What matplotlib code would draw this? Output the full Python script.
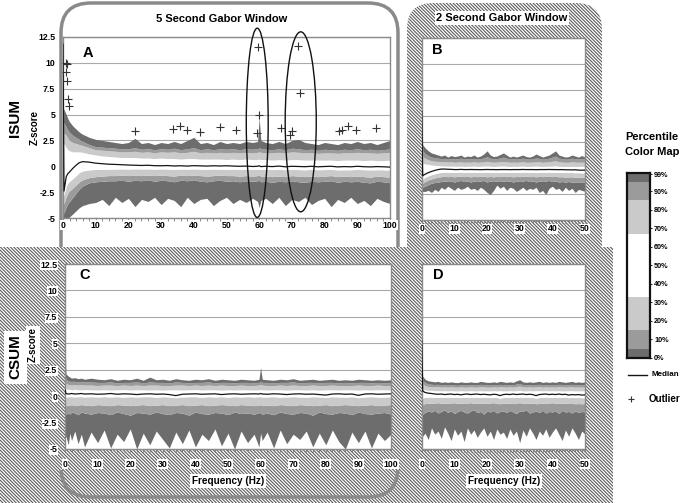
import matplotlib
matplotlib.use('Agg')
import matplotlib.pyplot as plt
from matplotlib.patches import FancyBboxPatch, Rectangle, Ellipse
import numpy as np

plt.rcParams['font.family'] = ['Liberation Sans', 'DejaVu Sans']
plt.rcParams['hatch.linewidth'] = 0.8

# frequency grids (Hz)
freq_5s = [0, 0.3, 1, 1.5, 2, 3, 4, 5, 6, 8, 10] + list(range(12, 59, 2)) + [59.5, 60, 60.5] + list(range(62, 101, 2))
freq_2s = [0, 0.3] + list(range(1, 51))

# ---- A: ISUM, 5 s window ----
isum5_p99 = [5.6, 5.5, 5.0, 4.6, 4.3, 3.9, 3.6, 3.3, 3.1, 2.8, 2.6,
             2.5, 2.4, 2.3, 2.2, 2.3, 2.7, 2.2, 2.3, 2.1, 2.3, 2.2, 2.4, 2.2, 2.5, 2.8, 2.2, 2.3, 2.1, 2.4, 2.2, 2.3, 2.2, 2.4, 2.3,
             2.4, 4.7, 2.5,
             2.3, 2.2, 2.4, 2.2, 2.5, 2.6, 2.3, 2.2, 2.1, 2.3, 2.2, 2.1, 2.3, 2.2, 2.4, 2.2, 2.3, 2.1, 2.3, 2.5]
isum5_p95 = [4.2, 4.2, 3.8, 3.5, 3.3, 3.0, 2.8, 2.6, 2.4, 2.1, 1.9,
             1.85, 1.8, 1.75, 1.7, 1.7, 1.8, 1.65, 1.7, 1.6, 1.7, 1.65, 1.75, 1.6, 1.7, 1.8, 1.6, 1.7, 1.6, 1.7, 1.65, 1.7, 1.6, 1.7, 1.65,
             1.7, 1.8, 1.7,
             1.65, 1.6, 1.7, 1.6, 1.75, 1.7, 1.6, 1.65, 1.55, 1.65, 1.6, 1.55, 1.65, 1.6, 1.7, 1.6, 1.65, 1.55, 1.6, 1.7]
isum5_p85 = [3.2, 3.2, 3.0, 2.7, 2.5, 2.3, 2.2, 2.1, 2.0, 1.8, 1.6,
             1.55, 1.5, 1.45, 1.4, 1.4, 1.45, 1.35, 1.4, 1.3, 1.4, 1.35, 1.4, 1.3, 1.35, 1.45, 1.3, 1.35, 1.3, 1.35, 1.3, 1.35, 1.3, 1.35, 1.3,
             1.35, 1.4, 1.35,
             1.3, 1.3, 1.35, 1.3, 1.4, 1.35, 1.3, 1.3, 1.25, 1.3, 1.3, 1.25, 1.3, 1.3, 1.35, 1.3, 1.3, 1.25, 1.3, 1.35]
isum5_p67 = [2.2, 2.2, 1.8, 1.6, 1.5, 1.4, 1.4, 1.4, 1.35, 1.2, 1.1,
             1.0, 0.95, 0.9, 0.85, 0.85, 0.85, 0.8, 0.8, 0.75, 0.8, 0.75, 0.75, 0.7, 0.75, 0.75, 0.7, 0.7, 0.7, 0.7, 0.65, 0.7, 0.65, 0.7, 0.65,
             0.65, 0.7, 0.65,
             0.65, 0.6, 0.65, 0.6, 0.65, 0.65, 0.6, 0.6, 0.6, 0.6, 0.6, 0.55, 0.6, 0.6, 0.6, 0.55, 0.6, 0.55, 0.55, 0.6]
isum5_med = [11.8, -2.4, -1.0, -0.7, -0.55, -0.2, 0.1, 0.35, 0.45, 0.4, 0.3,
             0.25, 0.2, 0.18, 0.15, 0.12, 0.1, 0.08, 0.1, 0.06, 0.05, 0.07, 0.03, 0.05, 0.02, 0.06, 0.04, 0.02, 0.05, 0.03, 0.05, 0.02, 0.0, 0.02, -0.02,
             0.0, 0.05, -0.03,
             0.0, -0.03, 0.02, -0.05, 0.0, -0.02, -0.04, 0.0, -0.05, -0.02, 0.0, -0.06, -0.03, -0.05, 0.0, -0.04, -0.06, -0.03, -0.05, -0.08]
isum5_p33 = [-2.8, -2.8, -1.9, -1.6, -1.45, -1.2, -0.9, -0.6, -0.45, -0.35, -0.3,
             -0.3, -0.28, -0.27, -0.25, -0.27, -0.25, -0.26, -0.25, -0.28, -0.25, -0.27, -0.3, -0.27, -0.28, -0.25, -0.28, -0.3, -0.27, -0.28, -0.3, -0.27, -0.3, -0.28, -0.3,
             -0.3, -0.28, -0.3,
             -0.3, -0.32, -0.3, -0.33, -0.3, -0.32, -0.34, -0.3, -0.33, -0.32, -0.3, -0.35, -0.33, -0.34, -0.3, -0.33, -0.35, -0.33, -0.34, -0.36]
isum5_p15 = [-3.6, -3.6, -2.9, -2.6, -2.4, -2.1, -1.8, -1.5, -1.3, -1.1, -1.0,
             -0.95, -0.9, -0.9, -0.85, -0.9, -0.85, -0.9, -0.85, -0.9, -0.85, -0.9, -0.95, -0.85, -0.9, -0.85, -0.9, -0.95, -0.9, -0.85, -0.9, -0.9, -0.95, -0.9, -0.95,
             -0.9, -0.85, -0.95,
             -0.95, -1.0, -0.95, -1.0, -0.9, -0.95, -1.0, -0.95, -1.0, -0.95, -0.9, -1.0, -0.95, -1.0, -0.95, -1.0, -1.05, -0.95, -1.0, -1.05]
isum5_p5 = [-4.5, -4.5, -3.9, -3.6, -3.4, -3.0, -2.6, -2.2, -1.9, -1.6, -1.5,
            -1.45, -1.4, -1.4, -1.35, -1.45, -1.35, -1.4, -1.3, -1.45, -1.35, -1.4, -1.5, -1.35, -1.4, -1.3, -1.45, -1.5, -1.4, -1.35, -1.45, -1.4, -1.5, -1.4, -1.45,
            -1.4, -1.35, -1.5,
            -1.45, -1.55, -1.45, -1.5, -1.4, -1.5, -1.55, -1.45, -1.5, -1.45, -1.4, -1.55, -1.45, -1.5, -1.45, -1.55, -1.6, -1.45, -1.5, -1.6]
isum5_p0 = [-5.0, -5.0, -5.0, -5.0, -4.9, -4.6, -4.3, -4.0, -3.8, -3.6, -3.5,
            -3.2, -3.8, -3.0, -3.5, -3.1, -3.9, -3.2, -3.4, -3.0, -3.7, -3.1, -3.3, -3.9, -3.0, -3.6, -3.2, -3.1, -3.8, -3.3, -3.0, -3.6, -3.2, -3.5, -3.1,
            -3.4, -4.0, -3.3,
            -3.1, -3.6, -3.0, -3.8, -3.2, -3.4, -3.0, -3.7, -3.3, -3.1, -3.9, -3.2, -3.5, -3.0, -3.6, -3.3, -3.8, -3.1, -3.4, -3.6]

# outliers in A
outlier_hz = [0.9, 1.2, 0.8, 1.1, 1.4, 1.9, 22.0, 33.7, 35.8, 38.0, 41.9, 48.0, 53.0,
              59.7, 60.0, 59.2, 72.0, 72.6, 66.7, 69.3, 70.1, 84.5, 85.3, 87.3, 89.6, 95.7]
outlier_z = [10.0, 9.9, 9.1, 8.25, 6.5, 5.85, 3.45, 3.57, 3.92, 3.5, 3.35, 3.78, 3.53,
             11.5, 4.96, 3.19, 11.6, 7.12, 3.7, 3.03, 3.44, 3.4, 3.5, 3.85, 3.5, 3.7]

# circled line-noise regions (centre Hz, centre z, width Hz, height z)
circled = [(59.4, 4.2, 6.7, 18.3), (72.7, 4.3, 9.5, 17.4)]

# ---- B: ISUM, 2 s window ----
isum2_p99 = [5.5, 2.2,
             1.9, 1.6, 1.4, 1.3, 1.2, 1.1, 1.2, 1.0, 1.15, 1.05, 1.1, 1.2, 1.0, 1.1, 1.05, 1.2, 1.0, 1.1, 1.3, 1.6, 1.2, 1.05, 1.1, 1.25, 1.4,
             1.2, 1.0, 1.1, 1.0, 1.1, 1.2, 1.05, 1.0, 1.1, 1.3, 1.15, 1.0, 1.1, 1.2, 1.4, 1.6, 1.2, 1.1, 1.0, 1.05, 1.2, 1.1, 1.0, 1.15, 1.0]
isum2_p95 = [3.5, 1.6,
             1.35, 1.15, 1.0, 0.95, 0.9, 0.85, 0.88, 0.8, 0.86, 0.82, 0.85, 0.9, 0.8, 0.85, 0.82, 0.88, 0.8, 0.85, 0.92, 1.05, 0.9, 0.82, 0.85, 0.92, 1.0,
             0.9, 0.8, 0.85, 0.8, 0.85, 0.9, 0.82, 0.8, 0.85, 0.92, 0.88, 0.8, 0.85, 0.9, 1.0, 1.1, 0.9, 0.85, 0.8, 0.82, 0.9, 0.85, 0.8, 0.88, 0.8]
isum2_p85 = [2.5, 1.0,
             0.9, 0.75, 0.65, 0.6, 0.58, 0.55, 0.55, 0.52, 0.55, 0.5, 0.52, 0.55, 0.5, 0.52, 0.5, 0.55, 0.5, 0.52, 0.55, 0.6, 0.55, 0.5, 0.52, 0.55, 0.58,
             0.55, 0.5, 0.52, 0.5, 0.52, 0.55, 0.5, 0.5, 0.52, 0.55, 0.55, 0.5, 0.52, 0.55, 0.6, 0.65, 0.55, 0.52, 0.5, 0.5, 0.55, 0.52, 0.5, 0.52, 0.5]
isum2_p67 = [1.5, 0.4,
             0.35, 0.3, 0.25, 0.2, 0.18, 0.15, 0.15, 0.12, 0.14, 0.12, 0.12, 0.14, 0.1, 0.12, 0.12, 0.14, 0.1, 0.12, 0.14, 0.15, 0.12, 0.1, 0.12, 0.14, 0.15,
             0.12, 0.1, 0.12, 0.1, 0.12, 0.14, 0.1, 0.1, 0.12, 0.14, 0.12, 0.1, 0.12, 0.12, 0.15, 0.16, 0.12, 0.1, 0.1, 0.1, 0.12, 0.1, 0.1, 0.12, 0.1]
isum2_med = [5.4, -0.8,
             -0.65, -0.5, -0.38, -0.28, -0.2, -0.15, -0.15, -0.17, -0.18, -0.2, -0.2, -0.18, -0.2, -0.2, -0.19, -0.2, -0.2, -0.21, -0.2, -0.19, -0.2, -0.2, -0.21, -0.2, -0.2,
             -0.2, -0.21, -0.2, -0.2, -0.2, -0.19, -0.2, -0.2, -0.2, -0.21, -0.2, -0.2, -0.2, -0.19, -0.2, -0.2, -0.21, -0.2, -0.22, -0.22, -0.23, -0.22, -0.25, -0.26, -0.25]
isum2_p33 = [-1.0, -1.1,
             -0.95, -0.8, -0.7, -0.6, -0.52, -0.48, -0.45, -0.46, -0.45, -0.47, -0.45, -0.44, -0.46, -0.45, -0.47, -0.45, -0.46, -0.45, -0.44, -0.46, -0.45, -0.47, -0.45, -0.46, -0.45,
             -0.46, -0.45, -0.47, -0.45, -0.46, -0.45, -0.44, -0.46, -0.45, -0.47, -0.45, -0.46, -0.45, -0.44, -0.46, -0.45, -0.47, -0.46, -0.48, -0.47, -0.48, -0.5, -0.5, -0.52, -0.5]
isum2_p15 = [-1.4, -1.5,
             -1.35, -1.2, -1.1, -1.0, -0.92, -0.88, -0.85, -0.88, -0.85, -0.9, -0.85, -0.82, -0.88, -0.85, -0.9, -0.85, -0.88, -0.85, -0.82, -0.9, -0.85, -0.9, -0.85, -0.88, -0.85,
             -0.88, -0.85, -0.9, -0.85, -0.88, -0.85, -0.82, -0.88, -0.85, -0.9, -0.85, -0.88, -0.85, -0.82, -0.88, -0.85, -0.9, -0.88, -0.92, -0.9, -0.9, -0.95, -0.92, -0.95, -0.92]
isum2_p5 = [-1.8, -1.9,
            -1.8, -1.65, -1.5, -1.45, -1.4, -1.35, -1.3, -1.35, -1.3, -1.4, -1.3, -1.25, -1.35, -1.3, -1.4, -1.3, -1.35, -1.3, -1.25, -1.4, -1.3, -1.35, -1.3, -1.35, -1.3,
            -1.35, -1.3, -1.4, -1.3, -1.35, -1.3, -1.25, -1.35, -1.3, -1.4, -1.3, -1.35, -1.3, -1.25, -1.35, -1.3, -1.4, -1.35, -1.4, -1.35, -1.4, -1.45, -1.4, -1.45, -1.4]
isum2_p0 = [-2.0, -2.3,
            -2.3, -2.2, -2.4, -2.1, -2.3, -1.9, -2.1, -1.8, -2.0, -2.2, -1.9, -2.1, -2.0, -1.8, -2.1, -2.0, -2.2, -1.9, -2.1, -2.4, -2.6, -2.2, -1.7, -2.0, -1.8,
            -2.2, -1.9, -2.0, -2.3, -2.1, -1.9, -2.2, -2.0, -2.1, -1.9, -2.4, -2.2, -2.6, -2.0, -1.8, -2.1, -2.0, -2.3, -1.9, -2.2, -2.0, -2.4, -2.1, -2.2, -2.3]

# ---- C: CSUM, 5 s window ----
csum5_p99 = [5.6, 2.1, 1.9, 1.8, 1.7, 1.75, 1.65, 1.7, 1.6, 1.7, 1.6,
             1.55, 1.65, 1.5, 1.6, 1.55, 1.7, 1.5, 1.8, 1.55, 1.6, 1.5, 1.65, 1.55, 1.5, 1.6, 1.55, 1.65, 1.5, 1.6, 1.55, 1.5, 1.6, 1.55, 1.5,
             1.6, 2.7, 1.6,
             1.55, 1.5, 1.6, 1.55, 1.65, 1.5, 1.55, 1.6, 1.5, 1.55, 1.6, 1.5, 1.55, 1.5, 1.6, 1.55, 1.5, 1.55, 1.5, 1.55]
csum5_p95 = [2.0, 1.6, 1.45, 1.4, 1.4, 1.4, 1.35, 1.4, 1.35, 1.35, 1.3,
             1.3, 1.35, 1.25, 1.3, 1.3, 1.35, 1.25, 1.35, 1.3, 1.3, 1.25, 1.35, 1.3, 1.25, 1.3, 1.3, 1.35, 1.25, 1.3, 1.3, 1.25, 1.3, 1.3, 1.25,
             1.3, 1.4, 1.3,
             1.3, 1.25, 1.3, 1.3, 1.35, 1.25, 1.3, 1.3, 1.25, 1.3, 1.3, 1.25, 1.3, 1.25, 1.3, 1.3, 1.25, 1.3, 1.25, 1.3]
csum5_p85 = [1.5, 1.2, 1.1, 1.1, 1.05, 1.1, 1.05, 1.1, 1.05, 1.05, 1.0,
             1.05, 1.05, 1.0, 1.05, 1.0, 1.05, 1.0, 1.05, 1.05, 1.0, 1.0, 1.05, 1.05, 1.0, 1.05, 1.0, 1.05, 1.0, 1.05, 1.0, 1.0, 1.05, 1.0, 1.0,
             1.05, 1.1, 1.05,
             1.0, 1.0, 1.05, 1.0, 1.05, 1.0, 1.0, 1.05, 1.0, 1.0, 1.05, 1.0, 1.0, 1.0, 1.05, 1.0, 1.0, 1.05, 1.0, 1.0]
csum5_p67 = [1.0, 0.7, 0.65, 0.65, 0.6, 0.65, 0.6, 0.6, 0.62, 0.6, 0.58,
             0.6, 0.58, 0.6, 0.62, 0.58, 0.6, 0.6, 0.58, 0.6, 0.57, 0.6, 0.6, 0.58, 0.6, 0.62, 0.58, 0.6, 0.6, 0.57, 0.6, 0.58, 0.6, 0.6, 0.58,
             0.6, 0.62, 0.6,
             0.58, 0.6, 0.6, 0.57, 0.6, 0.6, 0.58, 0.6, 0.57, 0.6, 0.6, 0.58, 0.6, 0.6, 0.57, 0.6, 0.58, 0.6, 0.6, 0.58]
csum5_med = [0.6, 0.25, 0.2, 0.22, 0.25, 0.2, 0.22, 0.25, 0.2, 0.22, 0.18,
             0.2, 0.25, 0.18, 0.22, 0.2, 0.15, 0.2, 0.22, 0.18, 0.2, 0.15, 0.05, 0.18, 0.2, 0.22, 0.18, 0.2, 0.22, 0.15, 0.2, 0.22, 0.18, 0.2, 0.22,
             0.2, 0.25, 0.2,
             0.18, 0.22, 0.2, 0.15, 0.2, 0.22, 0.18, 0.2, 0.15, 0.1, 0.2, 0.22, 0.18, 0.2, 0.08, 0.2, 0.22, 0.18, 0.2, 0.22]
csum5_p33 = [-0.2, -0.1, -0.05, -0.05, -0.05, -0.08, -0.05, -0.05, -0.08, -0.05, -0.08,
             -0.05, -0.08, -0.05, -0.1, -0.05, -0.08, -0.05, -0.05, -0.1, -0.05, -0.08, -0.15, -0.08, -0.05, -0.05, -0.1, -0.05, -0.08, -0.05, -0.1, -0.05, -0.08, -0.05, -0.08,
             -0.05, -0.05, -0.08,
             -0.08, -0.05, -0.1, -0.08, -0.05, -0.08, -0.1, -0.05, -0.08, -0.12, -0.05, -0.08, -0.1, -0.05, -0.15, -0.08, -0.05, -0.1, -0.08, -0.05]
csum5_p15 = [-1.0, -0.9, -0.85, -0.85, -0.8, -0.9, -0.85, -0.8, -0.85, -0.9, -0.8,
             -0.85, -0.9, -0.8, -0.85, -0.9, -0.85, -0.8, -0.9, -0.85, -0.8, -0.9, -0.85, -0.8, -0.9, -0.85, -0.8, -0.9, -0.85, -0.8, -0.85, -0.9, -0.8, -0.85, -0.9,
             -0.85, -0.8, -0.9,
             -0.85, -0.9, -0.8, -0.85, -0.9, -0.8, -0.85, -0.9, -0.85, -0.8, -0.9, -0.85, -0.8, -0.85, -0.9, -0.85, -0.8, -0.9, -0.85, -0.8]
csum5_p5 = [-1.8, -1.7, -1.6, -1.7, -1.5, -1.6, -1.75, -1.5, -1.6, -1.7, -1.55,
            -1.6, -1.75, -1.5, -1.65, -1.8, -1.55, -1.6, -1.7, -1.5, -1.65, -1.75, -1.55, -1.6, -1.8, -1.5, -1.65, -1.7, -1.55, -1.6, -1.75, -1.5, -1.65, -1.6, -1.7,
            -1.55, -1.6, -1.7,
            -1.6, -1.75, -1.5, -1.65, -1.7, -1.55, -1.6, -1.8, -1.5, -1.65, -1.7, -1.55, -1.6, -1.75, -1.5, -1.65, -1.7, -1.6, -1.55, -1.7]
csum5_p0 = [-4.0, -3.8, -4.6, -3.5, -4.2, -3.3, -4.5, -3.6, -4.8, -3.4, -4.4,
            -3.2, -4.9, -3.6, -4.3, -3.1, -5.0, -3.5, -4.6, -3.3, -4.1, -4.9, -3.4, -4.5, -3.2, -4.8, -3.6, -4.2, -3.1, -4.7, -3.5, -5.0, -3.3, -4.4, -3.6,
            -4.8, -3.5, -4.2,
            -3.4, -4.9, -3.2, -4.5, -3.6, -4.1, -3.3, -4.8, -3.5, -4.6, -3.2, -4.3, -5.0, -3.4, -4.4, -3.3, -4.9, -3.5, -4.2, -3.6]

# ---- D: CSUM, 2 s window ----
csum2_p99 = [5.3, 1.9,
             1.6, 1.45, 1.4, 1.35, 1.4, 1.3, 1.35, 1.3, 1.35, 1.3, 1.28, 1.35, 1.3, 1.3, 1.35, 1.3, 1.3, 1.4, 1.35, 1.3, 1.3, 1.35, 1.3, 1.4, 1.35,
             1.3, 1.35, 1.3, 1.45, 1.55, 1.35, 1.3, 1.35, 1.3, 1.35, 1.4, 1.3, 1.35, 1.3, 1.35, 1.3, 1.4, 1.35, 1.3, 1.35, 1.4, 1.3, 1.35, 1.3, 1.35]
csum2_p95 = [3.5, 1.5,
             1.3, 1.15, 1.12, 1.1, 1.12, 1.05, 1.1, 1.05, 1.1, 1.05, 1.02, 1.08, 1.05, 1.05, 1.1, 1.05, 1.05, 1.12, 1.08, 1.05, 1.05, 1.1, 1.05, 1.12, 1.08,
             1.05, 1.1, 1.05, 1.15, 1.2, 1.08, 1.05, 1.1, 1.05, 1.1, 1.12, 1.05, 1.1, 1.05, 1.1, 1.05, 1.12, 1.1, 1.05, 1.08, 1.12, 1.05, 1.1, 1.05, 1.08]
csum2_p85 = [2.5, 1.2,
             1.0, 0.92, 0.9, 0.88, 0.9, 0.85, 0.88, 0.85, 0.88, 0.85, 0.85, 0.88, 0.85, 0.85, 0.88, 0.85, 0.85, 0.9, 0.88, 0.85, 0.85, 0.88, 0.85, 0.9, 0.88,
             0.85, 0.88, 0.85, 0.92, 0.95, 0.88, 0.85, 0.88, 0.85, 0.88, 0.9, 0.85, 0.88, 0.85, 0.88, 0.85, 0.9, 0.88, 0.85, 0.88, 0.9, 0.85, 0.88, 0.85, 0.88]
csum2_p67 = [1.5, 0.7,
             0.6, 0.55, 0.55, 0.52, 0.52, 0.5, 0.52, 0.5, 0.52, 0.5, 0.5, 0.52, 0.5, 0.5, 0.52, 0.5, 0.5, 0.52, 0.5, 0.5, 0.5, 0.52, 0.5, 0.52, 0.5,
             0.5, 0.52, 0.5, 0.52, 0.55, 0.5, 0.5, 0.52, 0.5, 0.52, 0.52, 0.5, 0.52, 0.5, 0.52, 0.5, 0.52, 0.5, 0.5, 0.52, 0.52, 0.5, 0.5, 0.5, 0.52]
csum2_med = [5.3, 0.5,
             0.35, 0.28, 0.25, 0.2, 0.18, 0.2, 0.15, 0.18, 0.2, 0.15, 0.18, 0.12, 0.18, 0.2, 0.15, 0.18, 0.2, 0.15, 0.18, 0.15, 0.12, 0.18, 0.15, 0.05, 0.15,
             0.18, 0.15, 0.2, 0.15, 0.18, 0.2, 0.15, 0.18, 0.15, 0.05, 0.15, 0.18, 0.2, 0.15, 0.18, 0.15, 0.2, 0.15, 0.18, 0.1, 0.15, 0.12, 0.15, 0.1, 0.12]
csum2_p33 = [-0.3, -0.2,
             -0.12, -0.1, -0.1, -0.12, -0.1, -0.1, -0.12, -0.1, -0.1, -0.12, -0.1, -0.14, -0.1, -0.1, -0.12, -0.1, -0.1, -0.12, -0.1, -0.12, -0.14, -0.1, -0.12, -0.2, -0.12,
             -0.1, -0.12, -0.1, -0.12, -0.1, -0.1, -0.12, -0.1, -0.12, -0.2, -0.12, -0.1, -0.1, -0.12, -0.1, -0.12, -0.1, -0.12, -0.1, -0.15, -0.12, -0.14, -0.12, -0.15, -0.14]
csum2_p15 = [-0.9, -0.8,
             -0.7, -0.65, -0.68, -0.65, -0.62, -0.68, -0.65, -0.7, -0.65, -0.62, -0.68, -0.65, -0.7, -0.65, -0.62, -0.68, -0.65, -0.7, -0.65, -0.68, -0.65, -0.62, -0.68, -0.72, -0.65,
             -0.68, -0.65, -0.7, -0.65, -0.62, -0.68, -0.65, -0.7, -0.65, -0.72, -0.68, -0.65, -0.7, -0.65, -0.62, -0.68, -0.65, -0.7, -0.65, -0.7, -0.68, -0.72, -0.7, -0.72, -0.7]
csum2_p5 = [-1.8, -1.7,
            -1.55, -1.4, -1.5, -1.35, -1.6, -1.45, -1.3, -1.55, -1.4, -1.65, -1.45, -1.35, -1.5, -1.6, -1.4, -1.3, -1.55, -1.45, -1.7, -1.4, -1.5, -1.35, -1.6, -1.45, -1.4,
            -1.55, -1.35, -1.5, -1.65, -1.4, -1.45, -1.3, -1.6, -1.5, -1.4, -1.55, -1.35, -1.6, -1.45, -1.5, -1.4, -1.65, -1.35, -1.5, -1.45, -1.6, -1.4, -1.55, -1.45, -1.5]
csum2_p0 = [-3.2, -3.8,
            -3.5, -4.1, -3.0, -3.6, -3.3, -4.0, -2.9, -3.5, -4.2, -3.1, -3.7, -3.3, -4.3, -3.0, -3.6, -3.2, -3.9, -3.4, -3.0, -3.8, -3.3, -4.1, -3.1, -3.6, -3.4,
            -4.0, -3.1, -3.7, -3.3, -4.4, -3.2, -3.8, -3.0, -3.5, -4.1, -3.3, -3.7, -3.1, -3.9, -3.4, -3.0, -3.6, -4.2, -3.2, -3.8, -3.0, -3.5, -4.1, -3.3, -3.6]

zticks = [-5, -2.5, 0, 2.5, 5, 7.5, 10, 12.5]
ztick_labels = ['-5', '-2.5', '0', '2.5', '5', '7.5', '10', '12.5']
cmap_edges = [0, 5, 15, 33, 67, 85, 95, 100]
cmap_ticks = [0, 10, 20, 30, 40, 50, 60, 70, 80, 90, 99]

DARK = '#6d6d6d'
MID = '#9b9b9b'
LIGHT = '#cacaca'
band_colors = [DARK, MID, LIGHT, 'white', LIGHT, MID, DARK]
HATCH = '#5c5c5c'
HATCH_PAT = '\\' * 10
W, H = 683, 503


def draw_panel(ax, freq, bounds, med, xmax, minor, letter, letter_xy, show_y, xpad):
    for k in range(7):
        ax.fill_between(freq, bounds[k], bounds[k + 1], color=band_colors[k], lw=0, zorder=2)
    ax.plot(freq, med, color='#151515', lw=0.9, zorder=3)
    ax.set_xlim(0, xmax)
    ax.set_ylim(-5, 12.5)
    ax.set_yticks(zticks)
    ax.set_xticks(np.arange(0, xmax + 1, 10))
    ax.set_xticks(np.arange(0, xmax + 0.1, minor), minor=True)
    ax.yaxis.grid(True, color='#a9a9a9', lw=0.8)
    ax.set_axisbelow(True)
    for s in ax.spines.values():
        s.set_color('#8a8a8a')
        s.set_linewidth(1.0)
    ax.tick_params(axis='x', which='both', length=1.8, width=0.6, color='#777777', pad=xpad, labelsize=6.3)
    if show_y:
        ax.set_yticklabels(ztick_labels)
        ax.tick_params(axis='y', length=0, pad=5.5, labelsize=6.3)
    else:
        ax.tick_params(axis='y', length=0, labelleft=False)
    for lbl in ax.get_xticklabels() + ax.get_yticklabels():
        lbl.set_fontweight('bold')
        lbl.set_bbox(dict(facecolor='white', edgecolor='none', pad=0.3))
    ax.text(letter_xy[0], letter_xy[1], letter, transform=ax.transAxes, ha='center', va='center',
            fontsize=10.5, fontweight='bold')


fig = plt.figure(figsize=(W / 100, H / 100), dpi=100)

# background decorations, laid out in pixel units
bg = fig.add_axes([0, 0, 1, 1], zorder=-5)
bg.set_xlim(0, W)
bg.set_ylim(H, 0)
bg.axis('off')

col5 = FancyBboxPatch((61, 3), 337, 494, boxstyle='round,pad=0,rounding_size=30',
                      facecolor='white', edgecolor='#8a8a8a', lw=2.5, zorder=1)
bg.add_patch(col5)
col2 = FancyBboxPatch((407, 3), 195, 494, boxstyle='round,pad=0,rounding_size=26',
                      facecolor='white', edgecolor=HATCH, hatch=HATCH_PAT, lw=0, zorder=2)
bg.add_patch(col2)
row_c = Rectangle((0, 247), 613, 256, facecolor='white', edgecolor=HATCH, hatch=HATCH_PAT, lw=0, zorder=2)
bg.add_patch(row_c)
# bottom rim of the 5 s column shows through the hatching
rim = FancyBboxPatch((61, 3), 337, 494, boxstyle='round,pad=0,rounding_size=30',
                     facecolor='none', edgecolor='#8a8a8a', lw=2.5, zorder=3)
bg.add_patch(rim)
rim.set_clip_path(Rectangle((0, 470), W, 40, transform=bg.transData))

white_box = dict(facecolor='white', edgecolor='none', pad=1.2)
bg.text(222, 18.5, '5 Second Gabor Window', ha='center', va='center', fontsize=8, fontweight='bold', zorder=5)
bg.text(502, 18, '2 Second Gabor Window', ha='center', va='center', fontsize=8, fontweight='bold',
        bbox=white_box, zorder=5)
bg.text(15.5, 118, 'ISUM', rotation=90, ha='center', va='center', fontsize=11, fontweight='bold', zorder=5)
bg.text(35, 127, 'Z-score', rotation=90, ha='center', va='center', fontsize=7, fontweight='bold', zorder=5)
bg.text(15.5, 357, 'CSUM', rotation=90, ha='center', va='center', fontsize=11, fontweight='bold',
        bbox=dict(facecolor='white', edgecolor='none', pad=3), zorder=5)
bg.text(33, 345, 'Z-score', rotation=90, ha='center', va='center', fontsize=7, fontweight='bold',
        bbox=white_box, zorder=5)
bg.text(228, 481, 'Frequency (Hz)', ha='center', va='center', fontsize=7.2, fontweight='bold',
        bbox=white_box, zorder=5)
bg.text(504, 481, 'Frequency (Hz)', ha='center', va='center', fontsize=7.2, fontweight='bold',
        bbox=white_box, zorder=5)

# legend
bg.text(652, 137, 'Percentile', ha='center', va='center', fontsize=8, fontweight='bold')
bg.text(652, 152, 'Color Map', ha='center', va='center', fontsize=8, fontweight='bold')
bg.plot([628, 647], [375, 375], color='#151515', lw=1.0)
bg.text(651, 375, 'Median', ha='left', va='center', fontsize=5.8, fontweight='bold')
bg.plot([631], [399], marker='+', ms=5, mew=0.8, color='#333333', ls='none')
bg.text(649, 399.5, 'Outlier', ha='left', va='center', fontsize=7.0, fontweight='bold')

cb = fig.add_axes([627 / W, 1 - 358 / H, 23 / W, 185.5 / H])
for k in range(7):
    cb.axhspan(cmap_edges[k], cmap_edges[k + 1], color=band_colors[k], lw=0)
cb.set_ylim(0, 100)
cb.set_xticks([])
cb.yaxis.tick_right()
cb.set_yticks(cmap_ticks)
cb.set_yticklabels([f'{t}%' for t in cmap_ticks], fontsize=5.2, fontweight='bold')
cb.tick_params(axis='y', length=1.5, width=0.6, pad=1.5)
for s in cb.spines.values():
    s.set_color('#111111')
    s.set_linewidth(1.6)

# panels
axA = fig.add_axes([63 / W, 1 - 218 / H, 327 / W, 181 / H])
axB = fig.add_axes([421.7 / W, 1 - 219.5 / H, 163.3 / W, 182 / H])
axC = fig.add_axes([65 / W, 1 - 449 / H, 326 / W, 185 / H])
axD = fig.add_axes([421.7 / W, 1 - 449 / H, 163.3 / W, 185 / H])

draw_panel(axA, freq_5s,
           [isum5_p0, isum5_p5, isum5_p15, isum5_p33, isum5_p67, isum5_p85, isum5_p95, isum5_p99],
           isum5_med, 100, 2, 'A', (0.076, 0.91), True, 0.2)
draw_panel(axB, freq_2s,
           [isum2_p0, isum2_p5, isum2_p15, isum2_p33, isum2_p67, isum2_p85, isum2_p95, isum2_p99],
           isum2_med, 50, 1, 'B', (0.094, 0.93), False, 1.5)
draw_panel(axC, freq_5s,
           [csum5_p0, csum5_p5, csum5_p15, csum5_p33, csum5_p67, csum5_p85, csum5_p95, csum5_p99],
           csum5_med, 100, 2, 'C', (0.06, 0.94), True, 6)
draw_panel(axD, freq_2s,
           [csum2_p0, csum2_p5, csum2_p15, csum2_p33, csum2_p67, csum2_p85, csum2_p95, csum2_p99],
           csum2_med, 50, 1, 'D', (0.10, 0.94), False, 6)

axA.scatter(outlier_hz, outlier_z, marker='+', s=30, color='#333333', lw=0.8, zorder=5, clip_on=False)
for cx, cy, w, h in circled:
    axA.add_patch(Ellipse((cx, cy), w, h, fill=False, edgecolor='#111111', lw=1.0, zorder=6, clip_on=False))

fig.savefig('out.png', dpi=100)
